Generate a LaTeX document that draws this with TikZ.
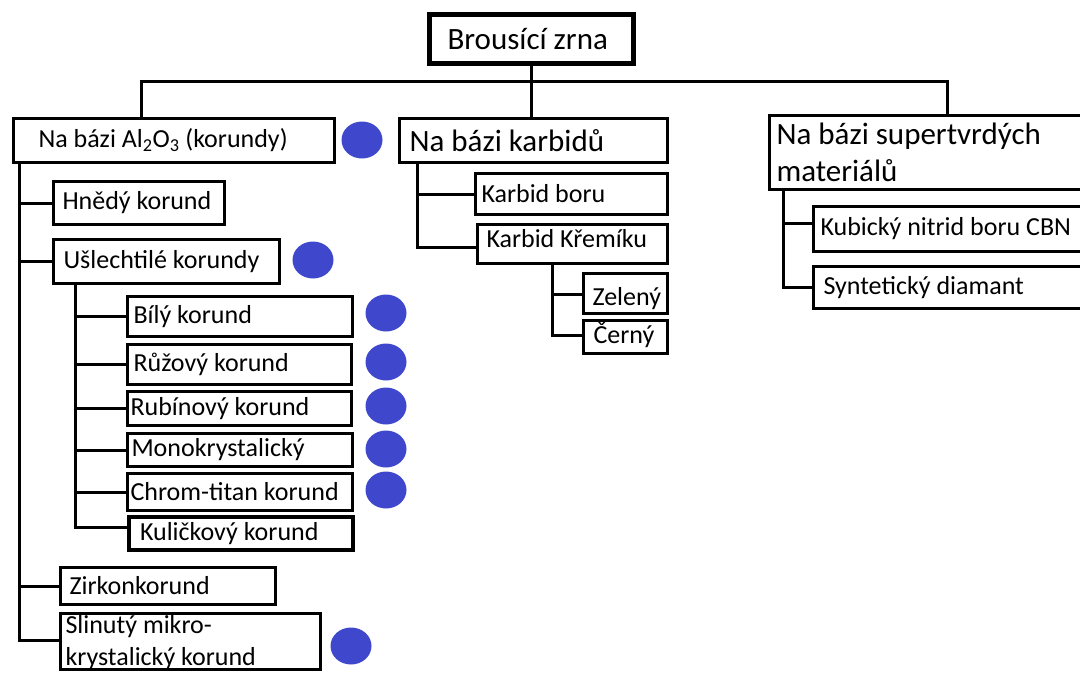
\documentclass[tikz,border=0pt]{standalone}
\usepackage{fontspec}
\setmainfont{Carlito}
\usetikzlibrary{shapes.geometric}
\definecolor{dotblue}{RGB}{63,72,204}
\newcommand\pd[1]{\spaceskip=0pt\xspaceskip=0pt\relax\hspace*{#1}}
\tikzset{
  bx/.style={draw, line width=3pt, anchor=north west, inner xsep=0pt, inner ysep=0pt,
    align=left, font=\fontsize{26}{32}\selectfont},
  bxl/.style={bx, font=\fontsize{31}{37}\selectfont},
  dotn/.style={ellipse, fill=dotblue, minimum width=41pt, minimum height=37pt, inner sep=0pt},
  conn/.style={line width=3pt},
}
\begin{document}
\begin{tikzpicture}[x=1pt,y=-1pt]
\path[use as bounding box, fill=white] (0,0) rectangle (1080,675);

% top
\node[bxl, line width=5pt, text width=204pt, minimum height=49pt] (top) at (427,12) {\pd{18pt}Brousící zrna};

% level 1
\node[bx, text width=321pt, minimum height=44pt] (al) at (12,117) {\pd{25pt}Na bázi Al\textsubscript{2}O\textsubscript{3} (korundy)};
\node[bxl, text width=268pt, minimum height=44pt] (kar) at (398,117) {\pd{10pt}Na bázi karbidů};
\node[bxl, text width=330pt, minimum height=74pt] (sup) at (768,114) {\pd{7pt}Na bázi supertvrdých\\\pd{7pt}materiálů};

% supertvrde
\node[bx, text width=280pt, minimum height=45pt] (ku) at (812,205) {\pd{7pt}Kubický nitrid boru CBN};
\node[bx, text width=280pt, minimum height=42pt] (sy) at (812,265) {\pd{10pt}Syntetický diamant};

% karbidy
\node[bx, text width=192pt, minimum height=41pt] (kb) at (474,172) {\pd{6pt}Karbid boru};
\node[bx, text width=190pt, minimum height=39pt, text depth=11pt] (kk) at (476,223) {\pd{9pt}Karbid Křemíku};
\node[bx, text width=84pt, minimum height=40pt, text height=29pt, text depth=5pt] (ze) at (582,272) {\pd{9pt}Zelený};
\node[bx, text width=84pt, minimum height=33pt, text depth=8pt] (ce) at (582,319) {\pd{10pt}Černý};

% korundy
\node[bx, text width=171pt, minimum height=43pt] (hn) at (52,180) {\pd{9pt}Hnědý korund};
\node[bx, text width=226pt, minimum height=44pt] (ul) at (52,238) {\pd{10pt}Ušlechtilé korundy};
\node[bx, text width=225pt, minimum height=40pt] (bi) at (126,295) {\pd{6pt}Bílý korund};
\node[bx, text width=224pt, minimum height=40pt] (ru) at (126,343) {\pd{6pt}Růžový korund};
\node[bx, text width=224pt, minimum height=34pt] (rb) at (126,390) {\pd{3pt}Rubínový korund};
\node[bx, text width=225pt, minimum height=33pt] (mo) at (126,432) {\pd{4pt}Monokrystalický};
\node[bx, text width=225pt, minimum height=37pt] (ch) at (126,472) {\pd{3pt}Chrom-titan korund};
\node[bx, line width=4pt, text width=224pt, minimum height=33pt] (kl) at (127,515) {\pd{11pt}Kuličkový korund};
\node[bx, text width=215pt, minimum height=37pt] (zr) at (59,566) {\pd{9pt}Zirkonkorund};
\node[bx, text width=260pt, inner ysep=2pt, text depth=34pt] (sl) at (59,612) {\pd{5pt}Slinutý mikro-\\\pd{5pt}krystalický korund};

% dots
\node[dotn] (d1) at (362,140) {};
\node[dotn] (d2) at (313,260) {};
\node[dotn] (d3) at (386,313) {};
\node[dotn] (d4) at (386,362) {};
\node[dotn] (d5) at (386,406) {};
\node[dotn] (d6) at (386,449) {};
\node[dotn] (d7) at (386,490) {};
\node[dotn] (d8) at (351,646) {};

% connectors
\coordinate (busL) at (141,81);
\coordinate (busR) at (947,81);
\draw[conn] (al.north -| busL) -- (busL) -- (busR) -- (sup.north -| busR);
\draw[conn] (top.south) -- (top.south |- kar.north);

\coordinate (lx) at (19,0);
\foreach \n in {hn,ul,zr} \draw[conn] (al.south -| lx) |- (\n.west);
\draw[conn] (al.south -| lx) |- ([yshift=-28pt]sl.north west);

\coordinate (ux) at (75,0);
\foreach \n in {bi,ru,rb,mo,ch} \draw[conn] (ul.south -| ux) |- (\n.west);
\draw[conn] (ul.south -| ux) |- ([yshift=-12pt]kl.north west);

\coordinate (kx) at (417,0);
\draw[conn] (kar.south -| kx) |- (kb.west);
\draw[conn] (kar.south -| kx) |- ([yshift=-24pt]kk.north west);

\coordinate (zx) at (552,0);
\draw[conn] (kk.south -| zx) |- ([yshift=-22pt]ze.north west);
\draw[conn] (kk.south -| zx) |- ([yshift=-16pt]ce.north west);

\coordinate (sx) at (783,0);
\draw[conn] (sup.south -| sx) |- ([yshift=-18pt]ku.north west);
\draw[conn] (sup.south -| sx) |- (sy.west);
\end{tikzpicture}
\end{document}
